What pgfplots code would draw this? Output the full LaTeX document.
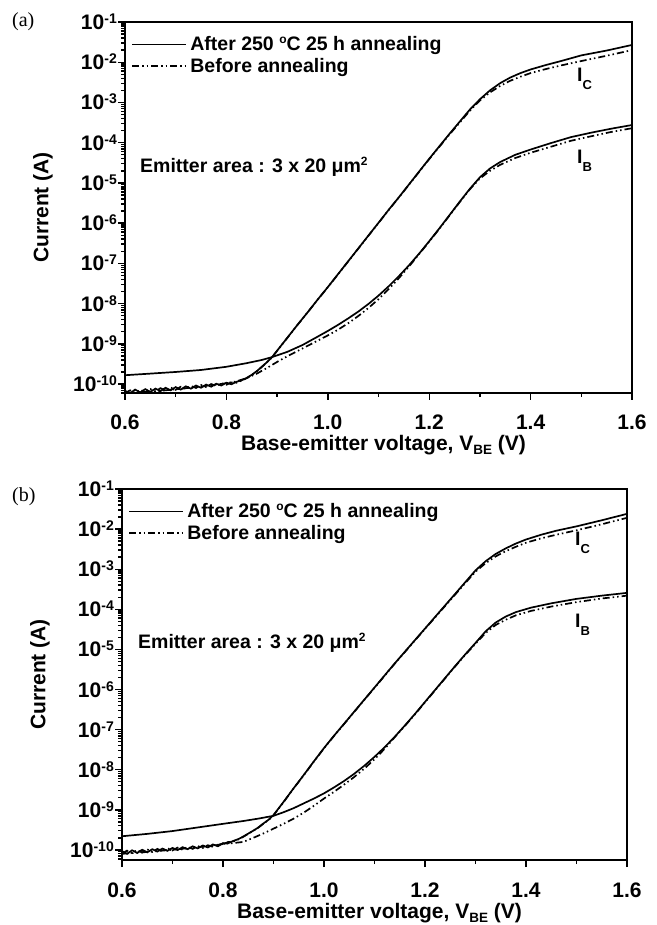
\documentclass[border=0pt]{standalone}
\usepackage{fontspec}
\setmainfont{Liberation Sans}
\newfontfamily\serifA{Liberation Serif}
\usepackage{pgfplots}
\usepackage{pgfplotstable}
\pgfplotsset{compat=1.18}

\newcommand{\tkl}[1]{10\raisebox{6pt}{\fontsize{14}{14}\selectfont #1}}
\newcommand{\sups}[1]{\raisebox{7pt}{\fontsize{12}{12}\selectfont #1}}
\newcommand{\subs}[1]{\raisebox{-8pt}{\fontsize{13}{13}\selectfont #1}}

\tikzset{
  aftersty/.style={solid, line width=1.7pt, black},
  beforesty/.style={line width=1.7pt, black, dash pattern=on 7pt off 3pt on 1.5pt off 3pt on 1.5pt off 3pt},
}

% ---------------- panel (a) ----------------
\pgfplotstableread{
V I
0.60 6.8e-11
0.61 5.9e-11
0.62 7.3e-11
0.63 6.2e-11
0.64 7.5e-11
0.65 6.4e-11
0.66 7.7e-11
0.67 6.7e-11
0.68 8.1e-11
0.69 7.0e-11
0.70 8.4e-11
0.71 7.3e-11
0.72 8.8e-11
0.73 7.7e-11
0.74 9.2e-11
0.75 8.1e-11
0.76 9.7e-11
0.77 8.6e-11
0.78 1.02e-10
0.79 9.2e-11
0.80 1.08e-10
0.81 9.9e-11
0.82 1.14e-10
0.83 1.24e-10
0.84 1.42e-10
0.85 1.70e-10
0.86 2.10e-10
0.87 2.70e-10
0.88 3.50e-10
0.89 4.68e-10
0.90 6.76e-10
0.92 1.41e-9
0.94 2.95e-9
0.96 6.03e-9
0.98 1.26e-8
1.00 2.57e-8
1.02 5.37e-8
1.04 1.12e-7
1.06 2.34e-7
1.08 4.90e-7
1.10 1.02e-6
1.12 2.14e-6
1.14 4.37e-6
1.16 9.12e-6
1.18 1.91e-5
1.20 3.98e-5
1.22 8.13e-5
1.24 1.66e-4
1.26 3.31e-4
1.28 6.61e-4
1.30 1.20e-3
1.32 2.00e-3
1.34 3.02e-3
1.36 4.17e-3
1.38 5.37e-3
1.40 6.61e-3
1.43 8.51e-3
1.46 1.07e-2
1.50 1.48e-2
1.55 1.95e-2
1.60 2.69e-2
}\ICaA

\pgfplotstableread{
V I
0.60 5.9e-11
0.61 7.0e-11
0.62 6.0e-11
0.63 7.2e-11
0.64 6.3e-11
0.65 7.5e-11
0.66 6.6e-11
0.67 7.9e-11
0.68 6.9e-11
0.69 8.2e-11
0.70 7.2e-11
0.71 8.6e-11
0.72 7.6e-11
0.73 9.0e-11
0.74 8.0e-11
0.75 9.5e-11
0.76 8.4e-11
0.77 1.00e-10
0.78 9.0e-11
0.79 1.05e-10
0.80 9.6e-11
0.81 1.10e-10
0.82 1.08e-10
0.83 1.22e-10
0.84 1.40e-10
0.85 1.68e-10
0.86 2.08e-10
0.87 2.68e-10
0.88 3.48e-10
0.89 4.60e-10
0.90 6.70e-10
0.92 1.40e-9
0.94 2.93e-9
0.96 6.00e-9
0.98 1.25e-8
1.00 2.55e-8
1.02 5.30e-8
1.04 1.11e-7
1.06 2.32e-7
1.08 4.85e-7
1.10 1.01e-6
1.12 2.12e-6
1.14 4.33e-6
1.16 9.00e-6
1.18 1.88e-5
1.20 3.90e-5
1.22 7.90e-5
1.24 1.60e-4
1.26 3.15e-4
1.28 6.20e-4
1.30 1.12e-3
1.32 1.78e-3
1.34 2.57e-3
1.36 3.47e-3
1.38 4.37e-3
1.40 5.37e-3
1.43 6.76e-3
1.46 8.32e-3
1.50 1.07e-2
1.55 1.45e-2
1.60 2.00e-2
}\ICaB

\pgfplotstableread{
V I
0.60 1.66e-10
0.65 1.82e-10
0.70 2.00e-10
0.75 2.24e-10
0.80 2.69e-10
0.84 3.31e-10
0.87 3.98e-10
0.89 4.68e-10
0.92 6.31e-10
0.95 9.33e-10
0.98 1.51e-9
1.00 2.09e-9
1.02 2.95e-9
1.04 4.27e-9
1.06 6.31e-9
1.08 9.77e-9
1.10 1.58e-8
1.12 2.69e-8
1.14 4.79e-8
1.16 8.91e-8
1.18 1.74e-7
1.20 3.55e-7
1.22 7.41e-7
1.24 1.58e-6
1.26 3.39e-6
1.28 7.08e-6
1.30 1.38e-5
1.32 2.29e-5
1.34 3.31e-5
1.37 5.01e-5
1.40 6.76e-5
1.44 9.77e-5
1.48 1.38e-4
1.52 1.78e-4
1.56 2.24e-4
1.60 2.75e-4
}\IBaA

\pgfplotstableread{
V I
0.60 5.8e-11
0.62 6.0e-11
0.64 6.3e-11
0.66 6.6e-11
0.68 7.0e-11
0.70 7.4e-11
0.72 7.9e-11
0.74 8.4e-11
0.76 9.0e-11
0.78 9.7e-11
0.80 1.05e-10
0.82 1.17e-10
0.84 1.41e-10
0.86 1.82e-10
0.88 2.51e-10
0.90 3.55e-10
0.92 4.90e-10
0.94 6.61e-10
0.96 8.91e-10
0.98 1.20e-9
1.00 1.62e-9
1.02 2.24e-9
1.04 3.24e-9
1.06 4.90e-9
1.08 7.76e-9
1.10 1.29e-8
1.12 2.29e-8
1.14 4.27e-8
1.16 8.32e-8
1.18 1.70e-7
1.20 3.47e-7
1.22 7.24e-7
1.24 1.55e-6
1.26 3.31e-6
1.28 6.92e-6
1.30 1.29e-5
1.32 2.00e-5
1.34 2.82e-5
1.37 4.17e-5
1.40 5.62e-5
1.44 7.94e-5
1.48 1.12e-4
1.52 1.45e-4
1.56 1.86e-4
1.60 2.29e-4
}\IBaB

% ---------------- panel (b) ----------------
\pgfplotstableread{
V I
0.60 9.3e-11
0.61 8.0e-11
0.62 9.8e-11
0.63 8.4e-11
0.64 1.01e-10
0.65 8.7e-11
0.66 1.04e-10
0.67 9.1e-11
0.68 1.08e-10
0.69 9.5e-11
0.70 1.12e-10
0.71 9.9e-11
0.72 1.17e-10
0.73 1.04e-10
0.74 1.23e-10
0.75 1.09e-10
0.76 1.29e-10
0.77 1.15e-10
0.78 1.37e-10
0.79 1.23e-10
0.80 1.48e-10
0.81 1.46e-10
0.82 1.67e-10
0.83 1.85e-10
0.84 2.15e-10
0.85 2.55e-10
0.86 3.02e-10
0.87 3.63e-10
0.88 4.57e-10
0.89 5.62e-10
0.90 7.41e-10
0.92 1.58e-9
0.94 3.47e-9
0.96 7.41e-9
0.98 1.62e-8
1.00 3.47e-8
1.02 7.08e-8
1.04 1.41e-7
1.06 2.82e-7
1.08 5.62e-7
1.10 1.12e-6
1.12 2.24e-6
1.14 4.47e-6
1.16 8.71e-6
1.18 1.70e-5
1.20 3.31e-5
1.22 6.46e-5
1.24 1.26e-4
1.26 2.45e-4
1.28 4.79e-4
1.30 9.33e-4
1.32 1.58e-3
1.34 2.40e-3
1.36 3.31e-3
1.38 4.37e-3
1.40 5.50e-3
1.43 7.24e-3
1.46 9.12e-3
1.50 1.17e-2
1.55 1.66e-2
1.60 2.40e-2
}\ICbA

\pgfplotstableread{
V I
0.60 8.1e-11
0.61 9.6e-11
0.62 8.3e-11
0.63 9.9e-11
0.64 8.6e-11
0.65 1.03e-10
0.66 8.9e-11
0.67 1.06e-10
0.68 9.3e-11
0.69 1.10e-10
0.70 9.7e-11
0.71 1.14e-10
0.72 1.01e-10
0.73 1.19e-10
0.74 1.06e-10
0.75 1.25e-10
0.76 1.12e-10
0.77 1.31e-10
0.78 1.19e-10
0.79 1.40e-10
0.80 1.37e-10
0.81 1.58e-10
0.82 1.60e-10
0.83 1.82e-10
0.84 2.12e-10
0.85 2.52e-10
0.86 3.00e-10
0.87 3.60e-10
0.88 4.50e-10
0.89 5.55e-10
0.90 7.30e-10
0.92 1.56e-9
0.94 3.42e-9
0.96 7.30e-9
0.98 1.60e-8
1.00 3.42e-8
1.02 7.00e-8
1.04 1.39e-7
1.06 2.78e-7
1.08 5.55e-7
1.10 1.10e-6
1.12 2.20e-6
1.14 4.40e-6
1.16 8.55e-6
1.18 1.67e-5
1.20 3.25e-5
1.22 6.30e-5
1.24 1.22e-4
1.26 2.35e-4
1.28 4.55e-4
1.30 8.71e-4
1.32 1.41e-3
1.34 2.09e-3
1.36 2.82e-3
1.38 3.63e-3
1.40 4.57e-3
1.43 5.89e-3
1.46 7.24e-3
1.50 9.33e-3
1.55 1.32e-2
1.60 1.91e-2
}\ICbB

\pgfplotstableread{
V I
0.60 2.19e-10
0.65 2.51e-10
0.70 2.95e-10
0.75 3.63e-10
0.80 4.47e-10
0.84 5.25e-10
0.87 6.03e-10
0.90 7.08e-10
0.92 8.71e-10
0.94 1.10e-9
0.96 1.45e-9
0.98 1.91e-9
1.00 2.57e-9
1.02 3.63e-9
1.04 5.25e-9
1.06 7.94e-9
1.08 1.26e-8
1.10 2.09e-8
1.12 3.63e-8
1.14 6.61e-8
1.16 1.26e-7
1.18 2.45e-7
1.20 4.90e-7
1.22 9.77e-7
1.24 1.95e-6
1.26 3.89e-6
1.28 7.59e-6
1.30 1.45e-5
1.32 2.82e-5
1.34 4.68e-5
1.36 6.61e-5
1.38 8.51e-5
1.41 1.10e-4
1.45 1.41e-4
1.50 1.82e-4
1.55 2.19e-4
1.60 2.57e-4
}\IBbA

\pgfplotstableread{
V I
0.60 8.0e-11
0.62 8.3e-11
0.64 8.7e-11
0.66 9.1e-11
0.68 9.6e-11
0.70 1.01e-10
0.72 1.07e-10
0.74 1.13e-10
0.76 1.20e-10
0.78 1.29e-10
0.80 1.40e-10
0.82 1.48e-10
0.84 1.58e-10
0.86 2.00e-10
0.88 2.57e-10
0.90 3.39e-10
0.92 4.47e-10
0.94 6.03e-10
0.96 8.51e-10
0.98 1.26e-9
1.00 1.91e-9
1.02 2.82e-9
1.04 4.27e-9
1.06 6.61e-9
1.08 1.07e-8
1.10 1.82e-8
1.12 3.31e-8
1.14 6.46e-8
1.16 1.23e-7
1.18 2.40e-7
1.20 4.79e-7
1.22 9.55e-7
1.24 1.91e-6
1.26 3.80e-6
1.28 7.41e-6
1.30 1.38e-5
1.32 2.57e-5
1.34 4.07e-5
1.36 5.50e-5
1.38 7.08e-5
1.41 9.12e-5
1.45 1.17e-4
1.50 1.51e-4
1.55 1.86e-4
1.60 2.19e-4
}\IBbB

\pgfplotsset{
  mypanel/.style={
    scale only axis,
    height=371pt,
    xmin=0.6, xmax=1.6, ymax=1e-1,
    xtick={0.6,0.8,1.0,1.2,1.4,1.6},
    xticklabels={0.6,0.8,1.0,1.2,1.4,1.6},
    minor xtick={0.7,0.9,1.1,1.3,1.5},
    ytick={1e-10,1e-9,1e-8,1e-7,1e-6,1e-5,1e-4,1e-3,1e-2,1e-1},
    yticklabels={\tkl{-10},\tkl{-9},\tkl{-8},\tkl{-7},\tkl{-6},\tkl{-5},\tkl{-4},\tkl{-3},\tkl{-2},\tkl{-1}},
    minor ytick={5e-11,6e-11,7e-11,8e-11,9e-11,
      2e-10,3e-10,4e-10,5e-10,6e-10,7e-10,8e-10,9e-10,
      2e-9,3e-9,4e-9,5e-9,6e-9,7e-9,8e-9,9e-9,
      2e-8,3e-8,4e-8,5e-8,6e-8,7e-8,8e-8,9e-8,
      2e-7,3e-7,4e-7,5e-7,6e-7,7e-7,8e-7,9e-7,
      2e-6,3e-6,4e-6,5e-6,6e-6,7e-6,8e-6,9e-6,
      2e-5,3e-5,4e-5,5e-5,6e-5,7e-5,8e-5,9e-5,
      2e-4,3e-4,4e-4,5e-4,6e-4,7e-4,8e-4,9e-4,
      2e-3,3e-3,4e-3,5e-3,6e-3,7e-3,8e-3,9e-3,
      2e-2,3e-2,4e-2,5e-2,6e-2,7e-2,8e-2,9e-2},
    tick align=outside,
    xtick pos=left, ytick pos=left,
    major tick length=7pt, minor tick length=4pt,
    every tick/.style={black, line width=1.4pt},
    axis line style={line width=2pt},
    tick label style={font=\fontsize{21}{21}\selectfont\bfseries},
    yticklabel style={anchor=base east, yshift=-7.5pt, inner sep=0pt, xshift=-1pt},
    xticklabel style={anchor=base, yshift=-30pt, inner sep=0pt},
    ylabel={Current (A)},
    ylabel style={font=\fontsize{21}{21}\selectfont\bfseries, at={(rel axis cs:0,0.5)}, anchor=center, yshift=82pt},
    xlabel={Base-emitter voltage, V\raisebox{-4pt}{\fontsize{13.5}{13.5}\selectfont BE} (V)},
    xlabel style={font=\fontsize{21}{21}\selectfont\bfseries, at={(rel axis cs:0.51,0)}, anchor=base, yshift=-58pt, inner sep=0pt},
    legend style={draw=none, fill=none, at={(rel axis cs:0,1)}, anchor=north west,
      xshift=6pt, yshift=-13pt, inner sep=0pt, row sep=3pt, column sep=2pt,
      font=\fontsize{19.5}{19.5}\selectfont\bfseries,
      nodes={inner sep=1.5pt}},
    legend cell align=left,
    legend image code/.code={\draw[##1] (0pt,0pt) -- (54pt,0pt);},
  },
}

\begin{document}
\begin{tikzpicture}
\path[use as bounding box] (0,0) rectangle (656pt,925pt);

% panel (a)
\begin{axis}[mypanel, ymode=log, width=507pt, ymin=6e-11, at={(125pt,532pt)}, anchor=south west]
\addplot[aftersty] table[x=V,y=I] {\ICaA};
\addlegendentry{After 250 \sups{o}C 25 h annealing}
\addplot[beforesty] table[x=V,y=I] {\ICaB};
\addlegendentry{Before annealing}
\addplot[aftersty, forget plot] table[x=V,y=I] {\IBaA};
\addplot[beforesty, forget plot] table[x=V,y=I] {\IBaB};
\node[anchor=base west, inner sep=0pt, font=\fontsize{19.5}{19.5}\selectfont\bfseries] at (axis cs:0.6296,1.86e-5) {Emitter area : 3 x 20 μm\sups{2}};
\node[anchor=base west, inner sep=0pt, font=\fontsize{19.5}{19.5}\selectfont\bfseries] at (axis cs:1.4915,3.24e-3) {I\subs{C}};
\node[anchor=base west, inner sep=0pt, font=\fontsize{19.5}{19.5}\selectfont\bfseries] at (axis cs:1.4915,3.09e-5) {I\subs{B}};
\end{axis}

% panel (b)
\begin{axis}[mypanel, ymode=log, width=505pt, ymin=5.6e-11, at={(122pt,65pt)}, anchor=south west]
\addplot[aftersty] table[x=V,y=I] {\ICbA};
\addlegendentry{After 250 \sups{o}C 25 h annealing}
\addplot[beforesty] table[x=V,y=I] {\ICbB};
\addlegendentry{Before annealing}
\addplot[aftersty, forget plot] table[x=V,y=I] {\IBbA};
\addplot[beforesty, forget plot] table[x=V,y=I] {\IBbB};
\node[anchor=base west, inner sep=0pt, font=\fontsize{19.5}{19.5}\selectfont\bfseries] at (axis cs:0.6317,1.05e-5) {Emitter area : 3 x 20 μm\sups{2}};
\node[anchor=base west, inner sep=0pt, font=\fontsize{19.5}{19.5}\selectfont\bfseries] at (axis cs:1.497,3.8e-3) {I\subs{C}};
\node[anchor=base west, inner sep=0pt, font=\fontsize{19.5}{19.5}\selectfont\bfseries] at (axis cs:1.497,3.47e-5) {I\subs{B}};
\end{axis}

\node[anchor=base west, inner sep=0pt, font=\serifA\fontsize{20}{20}\selectfont] at (12pt,898pt) {(a)};
\node[anchor=base west, inner sep=0pt, font=\serifA\fontsize{20}{20}\selectfont] at (12pt,423pt) {(b)};
\end{tikzpicture}
\end{document}
